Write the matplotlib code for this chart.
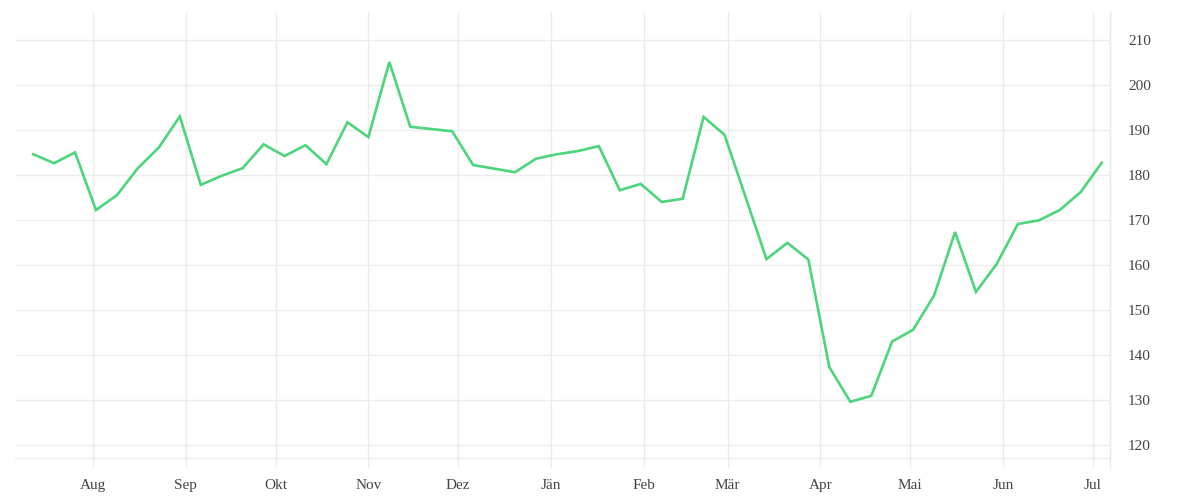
import matplotlib
matplotlib.use('Agg')
import matplotlib.pyplot as plt
import numpy as np
import pandas as pd

# weekly closes, one point every 7 days
start_date = '2018-07-12'
values = [
    184.6, 182.6, 185.0, 172.2, 175.5, 181.5, 186.1, 193.0,
    177.8, 179.8, 181.5, 186.8, 184.2, 186.6, 182.4, 191.7,
    188.4, 205.1, 190.7, 190.2, 189.7, 182.2, 181.4, 180.6,
    183.6, 184.6, 185.3, 186.4, 176.6, 178.0, 174.0, 174.7,
    192.9, 188.9, 175.1, 161.3, 164.9, 161.2, 137.3, 129.6,
    130.9, 143.0, 145.6, 153.2, 167.3, 154.0, 160.3, 169.1,
    169.9, 172.2, 176.2, 182.7,
]
month_ticks = pd.date_range('2018-08-01', '2019-07-01', freq='MS')
month_labels = ['Aug', 'Sep', 'Okt', 'Nov', 'Dez', 'Jän',
                'Feb', 'Mär', 'Apr', 'Mai', 'Jun', 'Jul']
y_ticks = [120, 130, 140, 150, 160, 170, 180, 190, 200, 210]

dates = pd.date_range(start_date, periods=len(values), freq='7D')

grid_col = '#ececec'
text_col = '#444444'

fig = plt.figure(figsize=(12, 5), dpi=100)
ax = fig.add_axes([0.0125, 0.084, 0.9125, 0.892])

ax.plot(dates, values, color='#4dd57b', linewidth=1.9, solid_joinstyle='miter')

ax.set_xlim(pd.Timestamp('2018-07-05 22:30'), pd.Timestamp('2019-07-06 18:40'))
ax.set_ylim(117.1, 216.2)

ax.set_xticks(month_ticks)
ax.set_xticklabels(month_labels)
ax.set_yticks(y_ticks)
ax.yaxis.tick_right()

for s in ['top', 'left']:
    ax.spines[s].set_visible(False)
for s in ['bottom', 'right']:
    ax.spines[s].set_color(grid_col)
    ax.spines[s].set_linewidth(1.0)

# right axis line runs down past the bottom like the ticks do
ax.plot([1, 1], [-0.022, 1], transform=ax.transAxes, color=grid_col,
        linewidth=1.0, clip_on=False)

ax.grid(True, color=grid_col, linewidth=1.0)
ax.set_axisbelow(True)

ax.tick_params(axis='x', length=7, width=1.0, color=grid_col, pad=8,
               labelsize=11, labelcolor=text_col)
ax.tick_params(axis='y', length=0, pad=13, labelsize=11, labelcolor=text_col)
for lab in ax.get_xticklabels() + ax.get_yticklabels():
    lab.set_family(['Liberation Serif', 'DejaVu Serif'])

fig.savefig('out.png', dpi=100)
